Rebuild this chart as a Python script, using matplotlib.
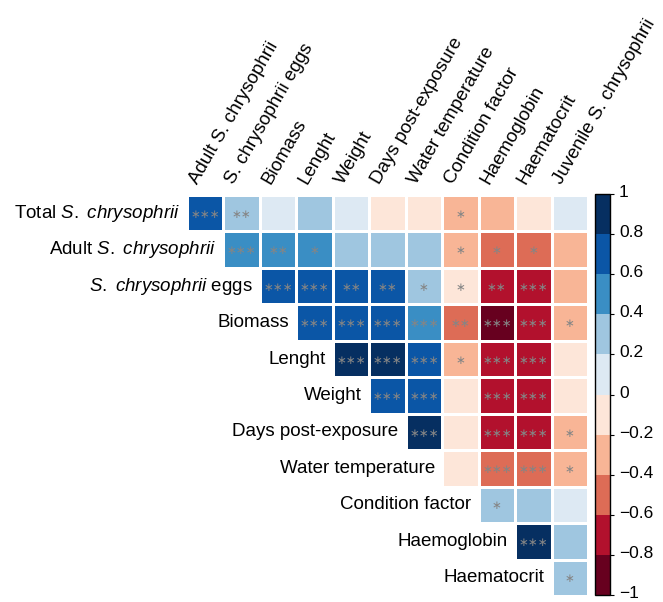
import numpy as np
import matplotlib
matplotlib.use("Agg")
import matplotlib.pyplot as plt
import matplotlib.transforms as mtransforms
from matplotlib.colors import ListedColormap, BoundaryNorm
from matplotlib.ticker import FuncFormatter

plt.rcParams['font.family'] = ['Liberation Sans', 'DejaVu Sans']
plt.rcParams['mathtext.fontset'] = 'custom'
plt.rcParams['mathtext.rm'] = 'Liberation Sans'
plt.rcParams['mathtext.it'] = 'Liberation Sans:italic'

sp = r'$\mathit{S.\ chrysophrii}$'
row_labels = ['Total ' + sp, 'Adult ' + sp, sp + ' eggs', 'Biomass', 'Lenght',
              'Weight', 'Days post-exposure', 'Water temperature',
              'Condition factor', 'Haemoglobin', 'Haematocrit']
col_labels = ['Adult S. chrysophrii', 'S. chrysophrii eggs', 'Biomass', 'Lenght',
              'Weight', 'Days post-exposure', 'Water temperature',
              'Condition factor', 'Haemoglobin', 'Haematocrit',
              'Juvenile S. chrysophrii']

nan = np.nan
# upper-triangle correlations (row i vs column j, j >= i)
corr = np.array([
    [0.72, 0.33, 0.12, 0.28, 0.13, -0.08, -0.10, -0.30, -0.32, -0.12, 0.10],
    [nan, 0.52, 0.48, 0.45, 0.30, 0.29, 0.31, -0.33, -0.50, -0.49, -0.30],
    [nan, nan, 0.70, 0.72, 0.66, 0.64, 0.32, -0.15, -0.72, -0.75, -0.28],
    [nan, nan, nan, 0.73, 0.71, 0.70, 0.55, -0.45, -0.85, -0.74, -0.32],
    [nan, nan, nan, nan, 0.93, 0.85, 0.75, -0.30, -0.76, -0.78, -0.12],
    [nan, nan, nan, nan, nan, 0.72, 0.70, -0.10, -0.74, -0.72, -0.15],
    [nan, nan, nan, nan, nan, nan, 0.88, -0.12, -0.70, -0.71, -0.33],
    [nan, nan, nan, nan, nan, nan, nan, -0.14, -0.55, -0.52, -0.31],
    [nan, nan, nan, nan, nan, nan, nan, nan, 0.30, 0.27, 0.10],
    [nan, nan, nan, nan, nan, nan, nan, nan, nan, 0.87, 0.29],
    [nan, nan, nan, nan, nan, nan, nan, nan, nan, nan, 0.32],
])

sig = [
    ['***', '**', '', '', '', '', '', '*', '', '', ''],
    ['', '***', '**', '*', '', '', '', '*', '*', '*', ''],
    ['', '', '***', '***', '**', '**', '*', '*', '**', '***', ''],
    ['', '', '', '***', '***', '***', '***', '**', '***', '***', '*'],
    ['', '', '', '', '***', '***', '***', '*', '***', '***', ''],
    ['', '', '', '', '', '***', '***', '', '***', '***', ''],
    ['', '', '', '', '', '', '***', '', '***', '***', '*'],
    ['', '', '', '', '', '', '', '', '***', '***', '*'],
    ['', '', '', '', '', '', '', '', '*', '', ''],
    ['', '', '', '', '', '', '', '', '', '***', ''],
    ['', '', '', '', '', '', '', '', '', '', '*'],
]

colors = ['#67001f', '#b2112d', '#dd6c56', '#f8b596', '#fde6d9',
          '#dde9f3', '#9fc6e0', '#3a8ec4', '#0b56a6', '#062f61']
cmap = ListedColormap(colors)
bounds = np.linspace(-1, 1, 11)
norm = BoundaryNorm(bounds, cmap.N)

W, H = 663, 602
fig = plt.figure(figsize=(W / 100, H / 100), dpi=100)
ax = fig.add_axes([187 / W, 1 - 596 / H, 401 / W, 401 / H])
n = corr.shape[0]
mesh = ax.pcolormesh(np.arange(n + 1) - 0.5, np.arange(n + 1) - 0.5,
                     np.ma.masked_invalid(corr), cmap=cmap, norm=norm,
                     edgecolors='white', linewidth=1)
ax.set_xlim(-0.5, n - 0.5)
ax.set_ylim(n - 0.5, -0.5)
ax.axis('off')

for i in range(n):
    for j in range(n):
        if sig[i][j]:
            ax.text(j, i + 0.03, '\u2217' * len(sig[i][j]), ha='center', va='center',
                    color='#858585', fontsize=8.5, family='DejaVu Sans')

for i, lab in enumerate(row_labels):
    ax.text(i - 0.7, i, lab, ha='right', va='center', fontsize=13.5)

for j, lab in enumerate(col_labels):
    ax.text(j - 0.12, -0.72, lab, ha='left', va='bottom', rotation=60,
            rotation_mode='anchor', fontsize=13.5)

cax = fig.add_axes([595 / W, 1 - 595 / H, 15 / W, 401 / H])
cb = fig.colorbar(mesh, cax=cax, ticks=bounds)
cb.outline.set_linewidth(1)
cax.tick_params(labelsize=12.5, length=3, width=0.8)
cax.yaxis.set_major_formatter(FuncFormatter(lambda v, p: f'{v:g}'.replace('-', '\u2212')))
# lift the tick labels a little so the bottom one stays inside the figure
shift = mtransforms.ScaledTranslation(0, 3 / 100, fig.dpi_scale_trans)
for t in cax.get_yticklabels():
    t.set_transform(t.get_transform() + shift)

fig.savefig('out.png', dpi=100)
